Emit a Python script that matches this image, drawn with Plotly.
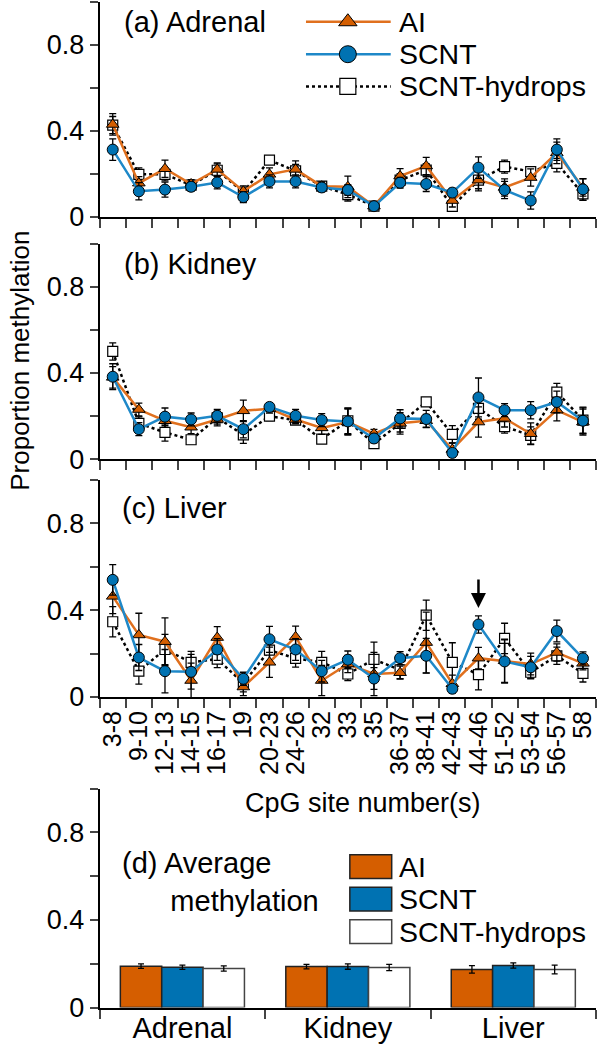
import plotly.graph_objects as go

# CpG site groups (x categories)
sites = ['3-8', '9-10', '12-13', '14-15', '16-17', '19', '20-23', '24-26', '32', '33',
         '35', '36-37', '38-41', '42-43', '44-46', '51-52', '53-54', '56-57', '58']

# (a) Adrenal
adr_ai = [0.43, 0.157, 0.224, 0.153, 0.221, 0.119, 0.198, 0.221, 0.143, 0.14,
          0.05, 0.19, 0.237, 0.076, 0.171, 0.137, 0.183, 0.298, 0.137]
adr_ai_se = [0.05, 0.03, 0.04, 0.02, 0.03, 0.025, 0.03, 0.04, 0.02, 0.05,
             0.01, 0.035, 0.04, 0.03, 0.04, 0.04, 0.04, 0.05, 0.04]
adr_scnt = [0.313, 0.119, 0.127, 0.14, 0.16, 0.092, 0.165, 0.165, 0.137, 0.125,
            0.05, 0.159, 0.153, 0.113, 0.229, 0.125, 0.076, 0.313, 0.128]
adr_scnt_se = [0.05, 0.04, 0.035, 0.02, 0.03, 0.025, 0.03, 0.03, 0.02, 0.025,
               0.01, 0.025, 0.035, 0.02, 0.05, 0.04, 0.04, 0.05, 0.05]
adr_hyd = [0.427, 0.198, 0.198, 0.148, 0.217, 0.115, 0.264, 0.214, 0.143, 0.104,
           0.05, 0.171, 0.218, 0.049, 0.171, 0.234, 0.211, 0.249, 0.107]
adr_hyd_se = [0.04, 0.03, 0.03, 0.02, 0.03, 0.02, 0.015, 0.03, 0.02, 0.03,
              0.01, 0.03, 0.03, 0.02, 0.05, 0.03, 0.02, 0.04, 0.03]

# (b) Kidney
kid_ai = [0.38, 0.231, 0.179, 0.149, 0.185, 0.225, 0.235, 0.185, 0.146, 0.173,
          0.119, 0.167, 0.179, 0.046, 0.173, 0.19, 0.119, 0.228, 0.173]
kid_ai_se = [0.05, 0.03, 0.03, 0.03, 0.03, 0.05, 0.02, 0.02, 0.03, 0.06,
             0.02, 0.05, 0.03, 0.03, 0.07, 0.04, 0.05, 0.05, 0.06]
kid_scnt = [0.383, 0.14, 0.198, 0.185, 0.202, 0.14, 0.243, 0.202, 0.182, 0.176,
            0.097, 0.19, 0.187, 0.03, 0.287, 0.228, 0.228, 0.266, 0.179]
kid_scnt_se = [0.06, 0.03, 0.04, 0.03, 0.03, 0.04, 0.02, 0.03, 0.03, 0.06,
               0.02, 0.04, 0.04, 0.02, 0.09, 0.03, 0.04, 0.05, 0.06]
kid_hyd = [0.50, 0.167, 0.125, 0.091, 0.193, 0.114, 0.20, 0.182, 0.094, 0.179,
           0.073, 0.167, 0.266, 0.116, 0.236, 0.152, 0.111, 0.312, 0.182]
kid_hyd_se = [0.04, 0.03, 0.04, 0.02, 0.03, 0.04, 0.02, 0.02, 0.02, 0.06,
              0.02, 0.04, 0.02, 0.04, 0.05, 0.03, 0.04, 0.04, 0.06]

# (c) Liver
liv_ai = [0.464, 0.286, 0.255, 0.076, 0.274, 0.046, 0.16, 0.277, 0.076, 0.152,
          0.106, 0.112, 0.251, 0.061, 0.179, 0.167, 0.152, 0.205, 0.155]
liv_ai_se = [0.08, 0.10, 0.11, 0.08, 0.05, 0.04, 0.07, 0.05, 0.07, 0.04,
             0.10, 0.03, 0.14, 0.04, 0.05, 0.10, 0.05, 0.04, 0.03]
liv_scnt = [0.54, 0.182, 0.119, 0.116, 0.219, 0.084, 0.266, 0.219, 0.119, 0.172,
            0.085, 0.179, 0.19, 0.038, 0.334, 0.164, 0.137, 0.304, 0.178]
liv_scnt_se = [0.07, 0.06, 0.10, 0.08, 0.05, 0.03, 0.06, 0.05, 0.05, 0.04,
               0.05, 0.03, 0.08, 0.02, 0.04, 0.10, 0.05, 0.05, 0.03]
liv_hyd = [0.347, 0.119, 0.219, 0.16, 0.175, 0.064, 0.216, 0.178, 0.16, 0.106,
           0.173, 0.125, 0.377, 0.16, 0.103, 0.27, 0.114, 0.19, 0.109]
liv_hyd_se = [0.07, 0.06, 0.07, 0.05, 0.04, 0.04, 0.05, 0.04, 0.05, 0.03,
              0.08, 0.04, 0.07, 0.09, 0.07, 0.07, 0.03, 0.04, 0.04]

# (d) Average methylation
tissues = ['Adrenal', 'Kidney', 'Liver']
avg_ai = [0.189, 0.187, 0.174]
avg_ai_se = [0.01, 0.01, 0.017]
avg_scnt = [0.184, 0.187, 0.192]
avg_scnt_se = [0.01, 0.012, 0.012]
avg_hyd = [0.178, 0.183, 0.174]
avg_hyd_se = [0.012, 0.014, 0.02]

FONT = 'Liberation Sans, Arial, sans-serif'
ORANGE_LINE = '#E0701E'
ORANGE = '#D55E00'
BLUE_LINE = '#1E88C8'
BLUE = '#0072B2'

W, H = 600, 1059
XD = [98 / W, 596 / W]


def ydom(zero_px, top_px):
    return [(H - zero_px) / H, (H - top_px) / H]


fig = go.Figure()

panels = [
    ('x', 'y', adr_ai, adr_ai_se, adr_scnt, adr_scnt_se, adr_hyd, adr_hyd_se),
    ('x2', 'y2', kid_ai, kid_ai_se, kid_scnt, kid_scnt_se, kid_hyd, kid_hyd_se),
    ('x3', 'y3', liv_ai, liv_ai_se, liv_scnt, liv_scnt_se, liv_hyd, liv_hyd_se),
]

for xa, ya, ai, ai_se, sc, sc_se, hy, hy_se in panels:
    err = lambda v: dict(type='data', array=v, color='black', thickness=1.3, width=3.5)
    fig.add_trace(go.Scatter(
        x=sites, y=hy, error_y=err(hy_se), mode='lines+markers', xaxis=xa, yaxis=ya,
        line=dict(color='black', width=2.5, dash='dot'),
        marker=dict(symbol='square', size=10, color='white', line=dict(color='black', width=1.2)),
        showlegend=False, cliponaxis=False))
    fig.add_trace(go.Scatter(
        x=sites, y=ai, error_y=err(ai_se), mode='lines+markers', xaxis=xa, yaxis=ya,
        line=dict(color=ORANGE_LINE, width=2.5),
        marker=dict(symbol='triangle-up', size=11, color=ORANGE, line=dict(color='black', width=1)),
        showlegend=False, cliponaxis=False))
    fig.add_trace(go.Scatter(
        x=sites, y=sc, error_y=err(sc_se), mode='lines+markers', xaxis=xa, yaxis=ya,
        line=dict(color=BLUE_LINE, width=2.5),
        marker=dict(symbol='circle', size=11, color=BLUE, line=dict(color='black', width=1)),
        showlegend=False, cliponaxis=False))

# (d) bars
for vals, se, col, edge in [(avg_ai, avg_ai_se, ORANGE, '#222'),
                            (avg_scnt, avg_scnt_se, BLUE, '#222'),
                            (avg_hyd, avg_hyd_se, 'white', '#444')]:
    fig.add_trace(go.Bar(
        x=tissues, y=vals, xaxis='x4', yaxis='y4', marker=dict(color=col, line=dict(color=edge, width=1.5)),
        error_y=dict(type='data', array=se, color='black', thickness=1.3, width=3),
        showlegend=False))

# legend for (a) on hidden overlay axes
leg_rows = [(0.908, 'AI'), (0.757, 'SCNT'), (0.607, 'SCNT-hydrops')]
lx0, lxm, lx1 = (305 - 98) / 498, (347 - 98) / 498, (390 - 98) / 498
leg_styles = [
    (dict(color=ORANGE_LINE, width=2.5), dict(symbol='triangle-up', size=16, color=ORANGE, line=dict(color='black', width=1))),
    (dict(color=BLUE_LINE, width=2.5), dict(symbol='circle', size=17, color=BLUE, line=dict(color='black', width=1))),
    (dict(color='black', width=2.5, dash='dot'), dict(symbol='square', size=16, color='white', line=dict(color='black', width=1.2))),
]
for (yv, name), (ln, mk) in zip(leg_rows, leg_styles):
    fig.add_trace(go.Scatter(x=[lx0, lx1], y=[yv, yv], mode='lines', line=ln,
                             xaxis='x5', yaxis='y5', showlegend=False, hoverinfo='skip'))
    fig.add_trace(go.Scatter(x=[lxm], y=[yv], mode='markers', marker=mk,
                             xaxis='x5', yaxis='y5', showlegend=False, hoverinfo='skip'))
    fig.add_annotation(x=396 / W, y=1 - (220 - yv * 218) / H, xref='paper', yref='paper',
                       text=name, showarrow=False, xanchor='left', yanchor='middle',
                       font=dict(size=28.5))

yax = dict(range=[0, 1], tickvals=[0, 0.2, 0.4, 0.6, 0.8, 1.0],
           ticktext=['0', '', '0.4', '', '0.8', ''], ticks='outside', ticklen=8,
           tickwidth=2, showline=True, linewidth=2, linecolor='black',
           showgrid=False, zeroline=False, tickfont=dict(size=27))
xax = dict(type='category', categoryarray=sites, range=[-0.5, 18.5], tickson='boundaries',
           tickmode='linear', tick0=0, dtick=1,
           ticks='outside', ticklen=9, tickwidth=2, showline=True, linewidth=2,
           linecolor='black', showgrid=False, domain=XD)

fig.update_layout(
    width=W, height=H, margin=dict(l=0, r=0, t=0, b=0),
    plot_bgcolor='white', paper_bgcolor='white',
    font=dict(family=FONT, color='black', size=26),
    bargap=0.25, bargroupgap=0, barmode='group',
    xaxis=dict(xax, anchor='y', showticklabels=False),
    yaxis=dict(yax, anchor='x', domain=ydom(220, 2)),
    xaxis2=dict(xax, anchor='y2', showticklabels=False),
    yaxis2=dict(yax, anchor='x2', domain=ydom(466, 247)),
    xaxis3=dict(xax, anchor='y3', showticklabels=True, tickangle=-90, tickfont=dict(size=25),
                ticklabelstandoff=2),
    yaxis3=dict(yax, anchor='x3', domain=ydom(707, 487)),
    xaxis4=dict(type='category', categoryarray=tissues, tickson='boundaries', range=[-0.5, 2.5],
                ticks='outside', ticklen=9, tickwidth=2, showline=True, linewidth=2,
                linecolor='black', showgrid=False, domain=XD, anchor='y4', tickfont=dict(size=29),
                ticklabelstandoff=-6),
    yaxis4=dict(yax, anchor='x4', domain=ydom(1022, 800)),
    xaxis5=dict(range=[0, 1], overlaying='x', visible=False),
    yaxis5=dict(range=[0, 1], overlaying='y', visible=False),
)

# panel labels and titles
for txt, xp, yp in [('(a) Adrenal', 120, 22), ('(b) Kidney', 120, 268), ('(c) Liver', 118, 515)]:
    fig.add_annotation(x=xp / W, y=1 - yp / H, xref='paper', yref='paper', text=txt,
                       showarrow=False, xanchor='left', yanchor='middle', font=dict(size=29))
fig.add_annotation(x=118 / W, y=1 - 895 / H, xref='paper', yref='paper',
                   text='(d) Average<br>      methylation', align='left',
                   showarrow=False, xanchor='left', yanchor='middle', font=dict(size=29))
fig.add_annotation(x=18 / W, y=1 - 366 / H, xref='paper', yref='paper',
                   text='Proportion methylation', textangle=-90, showarrow=False,
                   xanchor='center', yanchor='middle', font=dict(size=26))
fig.add_annotation(x=362 / W, y=1 - 815 / H, xref='paper', yref='paper',
                   text='CpG site number(s)', showarrow=False,
                   xanchor='center', yanchor='middle', font=dict(size=27))

# arrow in (c)
fig.add_annotation(x='44-46', y=0.41, xref='x3', yref='y3', text='', showarrow=True,
                   ax=0, ay=-30, arrowhead=2, arrowsize=1.2, arrowwidth=2.5, arrowcolor='black')

# legend for (d)
for i, (name, col, edge) in enumerate([('AI', ORANGE, '#222'), ('SCNT', BLUE, '#222'),
                                       ('SCNT-hydrops', 'white', '#444')]):
    yc = 879 + 33 * i
    fig.add_shape(type='rect', xref='paper', yref='paper', x0=349 / W, x1=391 / W,
                  y0=1 - (yc + 12) / H, y1=1 - (yc - 12) / H,
                  fillcolor=col, line=dict(color=edge, width=1.5))
    fig.add_annotation(x=396 / W, y=1 - yc / H, xref='paper', yref='paper', text=name,
                       showarrow=False, xanchor='left', yanchor='middle', font=dict(size=28.5))

# the page body has a default 8px margin; drop it (and any scrollbars) so the figure fills the window
fig.write_html("out.html", config={'displayModeBar': False},
               post_script="document.body.style.margin='0px';"
                           "document.body.style.overflow='hidden';"
                           "document.documentElement.style.overflow='hidden';")
